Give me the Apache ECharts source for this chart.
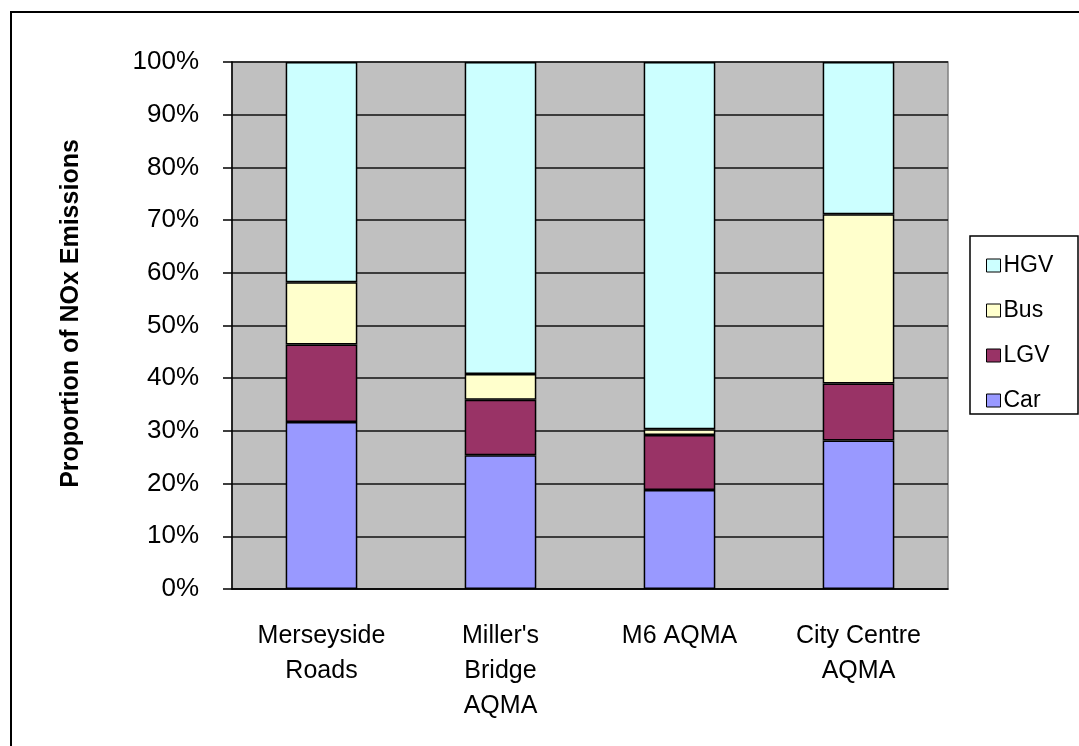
<!DOCTYPE html>
<html>
<head>
<meta charset="utf-8">
<script src="https://cdn.jsdelivr.net/npm/echarts@6/dist/echarts.min.js"></script>
<style>
  html, body { margin: 0; padding: 0; background: #fff; }
  #chart { width: 1079px; height: 746px; }
</style>
</head>
<body>
<div id="chart"></div>
<script>
// Share of NOx emissions by vehicle type at each location (%)
const categories = ['Merseyside\nRoads', "Miller's\nBridge\nAQMA", 'M6 AQMA', 'City Centre\nAQMA'];
const car = [31.7, 25.4, 18.8, 28.2];
const lgv = [14.7, 10.5, 10.4, 10.8];
const bus = [11.8, 4.9, 1.1, 32.1];
const hgv = [41.8, 59.2, 69.7, 28.9];
const yTicks = [0, 10, 20, 30, 40, 50, 60, 70, 80, 90, 100];

const FONT = 'Liberation Sans, Arial, sans-serif';

function stackSeries(name, data, color) {
  return {
    name: name,
    type: 'bar',
    stack: 'total',
    data: data,
    barWidth: '40%',
    itemStyle: { color: color, borderColor: '#000', borderWidth: 1.5 },
    emphasis: { disabled: true }
  };
}

const chart = echarts.init(document.getElementById('chart'), null, { renderer: 'canvas' });
chart.setOption({
  animation: false,
  backgroundColor: '#fff',
  grid: {
    left: 232, top: 62, right: 131, bottom: 157,
    show: true, backgroundColor: '#C0C0C0', borderColor: '#808080', borderWidth: 1.5
  },
  xAxis: {
    type: 'category',
    data: categories,
    axisLine: { lineStyle: { color: '#000', width: 1.5 } },
    axisTick: { length: 8, lineStyle: { color: '#000', width: 1.5 } },
    axisLabel: { color: '#000', fontFamily: FONT, fontSize: 25, lineHeight: 35, margin: 30 }
  },
  yAxis: {
    type: 'value',
    min: yTicks[0],
    max: yTicks[yTicks.length - 1],
    interval: yTicks[1] - yTicks[0],
    name: 'Proportion of NOx Emissions',
    nameLocation: 'middle',
    nameGap: 148,
    nameTextStyle: { color: '#000', fontFamily: FONT, fontSize: 25, fontWeight: 'bold', padding: [0, 0, 0, 24] },
    axisLine: { show: true, lineStyle: { color: '#000', width: 1.5 } },
    axisTick: { show: true, length: 9, lineStyle: { color: '#000', width: 1.5 } },
    axisLabel: { color: '#000', fontFamily: FONT, fontSize: 26, margin: 33, formatter: '{value}%' },
    splitLine: { show: true, lineStyle: { color: '#111', width: 1.5 } }
  },
  legend: {
    orient: 'vertical',
    left: 981,
    top: 249,
    data: ['HGV', 'Bus', 'LGV', 'Car'],
    icon: 'rect',
    itemWidth: 14,
    itemHeight: 13,
    itemGap: 22,
    selectedMode: false,
    itemStyle: { borderColor: '#000', borderWidth: 1 },
    textStyle: { color: '#000', fontFamily: FONT, fontSize: 23, lineHeight: 23, padding: [0, 0, 0, -2] }
  },
  graphic: [
    {
      type: 'rect', silent: true, z: -1,
      shape: { x: 11, y: 12, width: 1200, height: 900 },
      style: { fill: 'none', stroke: '#000', lineWidth: 2 }
    },
    {
      type: 'rect', silent: true,
      shape: { x: 970, y: 236, width: 108, height: 178 },
      style: { fill: '#fff', stroke: '#000', lineWidth: 1.5 }
    }
  ],
  series: [
    stackSeries('Car', car, '#9999FF'),
    stackSeries('LGV', lgv, '#993366'),
    stackSeries('Bus', bus, '#FFFFCC'),
    stackSeries('HGV', hgv, '#CCFFFF')
  ]
});
</script>
</body>
</html>
